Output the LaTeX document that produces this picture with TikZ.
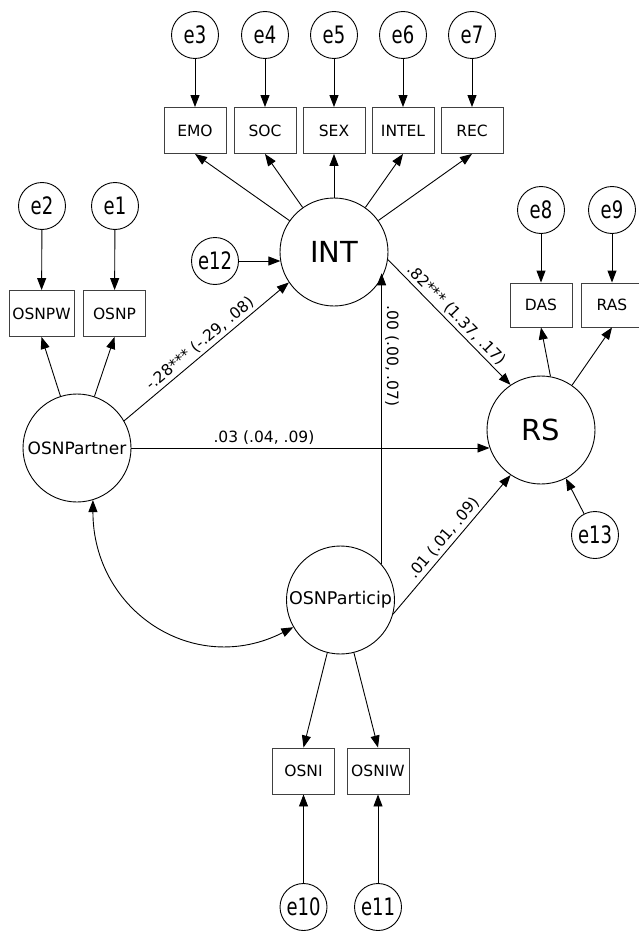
\documentclass[tikz,border=0pt]{standalone}
\usepackage{fontspec}
\setmainfont{DejaVu Sans}
\newfontfamily\errfont{DejaVu Sans}[FakeStretch=0.75]
\usetikzlibrary{arrows.meta}

\begin{document}
\begin{tikzpicture}[x=1pt,y=-1pt,->,>={Triangle[length=12pt,width=9pt]},
                    line width=0.9pt]
  \tikzstyle{latent}=[circle,draw,minimum size=108pt,inner sep=0pt,font=\fontsize{17}{20}\selectfont]
  \tikzstyle{error}=[circle,draw,minimum size=47pt,inner sep=0pt,font=\errfont\fontsize{24}{28}\selectfont]
  \tikzstyle{observed}=[rectangle,draw=black!75,minimum width=62pt,minimum height=46pt,inner sep=0pt,font=\fontsize{15.5}{18}\selectfont]
  \tikzstyle{coef}=[font=\fontsize{15.5}{18}\selectfont,sloped,above,inner sep=3pt]

  \path[use as bounding box,-] (0,0) rectangle (639,931);

  \node[error]    (e3)  at (195,35)   {e3};
  \node[error]    (e4)  at (265,35)   {e4};
  \node[error]    (e5)  at (334,35)   {e5};
  \node[error]    (e6)  at (403,35)   {e6};
  \node[error]    (e7)  at (472,35)   {e7};
  \node[observed] (EMO)   at (195,130.5) {EMO};
  \node[observed] (SOC)   at (265,130.5) {SOC};
  \node[observed] (SEX)   at (334,130.5) {SEX};
  \node[observed] (INTEL) at (403,130.5) {INTEL};
  \node[observed] (REC)   at (472,130.5) {REC};
  \node[latent,font=\fontsize{29}{32}\selectfont] (INT) at (334,252) {INT};
  \node[error]    (e12) at (215,261)  {e12};

  \node[error]    (e2)  at (42,206)   {e2};
  \node[error]    (e1)  at (115,206)  {e1};
  \node[observed,minimum width=65pt] (OSNPW) at (41.5,313.5) {OSNPW};
  \node[observed] (OSNP)  at (114.5,313.5) {OSNP};
  \node[latent]   (OSNPartner) at (77,448) {OSNPartner};

  \node[error]    (e8)  at (541,210)  {e8};
  \node[error]    (e9)  at (612,210)  {e9};
  \node[observed,minimum height=44pt] (DAS) at (541,305) {DAS};
  \node[observed,minimum height=44pt] (RAS) at (612,305) {RAS};
  \node[latent,font=\fontsize{29}{32}\selectfont] (RS) at (541,430) {RS};
  \node[error]    (e13) at (595,535)  {e13};

  \node[latent,font=\fontsize{17.5}{20}\selectfont] (OSNParticip) at (340.5,600) {OSNParticip};
  \node[observed] (OSNI)  at (303.5,771) {OSNI};
  \node[observed] (OSNIW) at (378,771)   {OSNIW};
  \node[error]    (e10) at (303.5,907) {e10};
  \node[error]    (e11) at (378,907)   {e11};

  % residuals
  \path (e3) edge (EMO);
  \path (e4) edge (SOC);
  \path (e5) edge (SEX);
  \path (e6) edge (INTEL);
  \path (e7) edge (REC);
  \path (e2) edge (OSNPW);
  \path (e1) edge (OSNP);
  \path (e8) edge (DAS);
  \path (e9) edge (RAS);
  \path (e10) edge (OSNI);
  \path (e11) edge (OSNIW);
  \path (e12.east) edge (e12.east -| INT.190);
  \path (e13) edge (RS);

  % loadings
  \path (INT) edge (EMO.south);
  \path (INT) edge (SOC.south);
  \path (INT) edge (SEX.south);
  \path (INT) edge (INTEL.south);
  \path (INT) edge (REC.south);
  \path (OSNPartner) edge (OSNPW.south);
  \path (OSNPartner) edge (OSNP.south);
  \path (RS.80) edge (DAS.south);
  \path (RS) edge (RAS.south);
  \path (OSNParticip) edge (OSNI.north);
  \path (OSNParticip) edge (OSNIW.north);

  % structural paths
  \path (OSNPartner.30) edge node[coef] {-.28*** (-.29, .08)} (INT.214);
  \path (OSNPartner.east) edge node[coef,pos=0.37] {.03 (.04, .09)} (OSNPartner.east -| RS.199);
  \path (INT.-8) edge node[coef] {.82*** (1.37, .17)} (RS.124);
  \path (OSNParticip.-15) edge node[coef] {.01 (.01, .09)} (RS.236);
  \path (OSNParticip.41) edge node[font=\fontsize{15.5}{18}\selectfont,rotate=-90,anchor=south,inner sep=3pt,pos=0.715] {.00 (.00, .07)} (OSNParticip.41 |- INT.-23);
  \path (OSNPartner.-73) edge[<->,out=-90,in=207,looseness=1.2] (OSNParticip.210);

\end{tikzpicture}
\end{document}
